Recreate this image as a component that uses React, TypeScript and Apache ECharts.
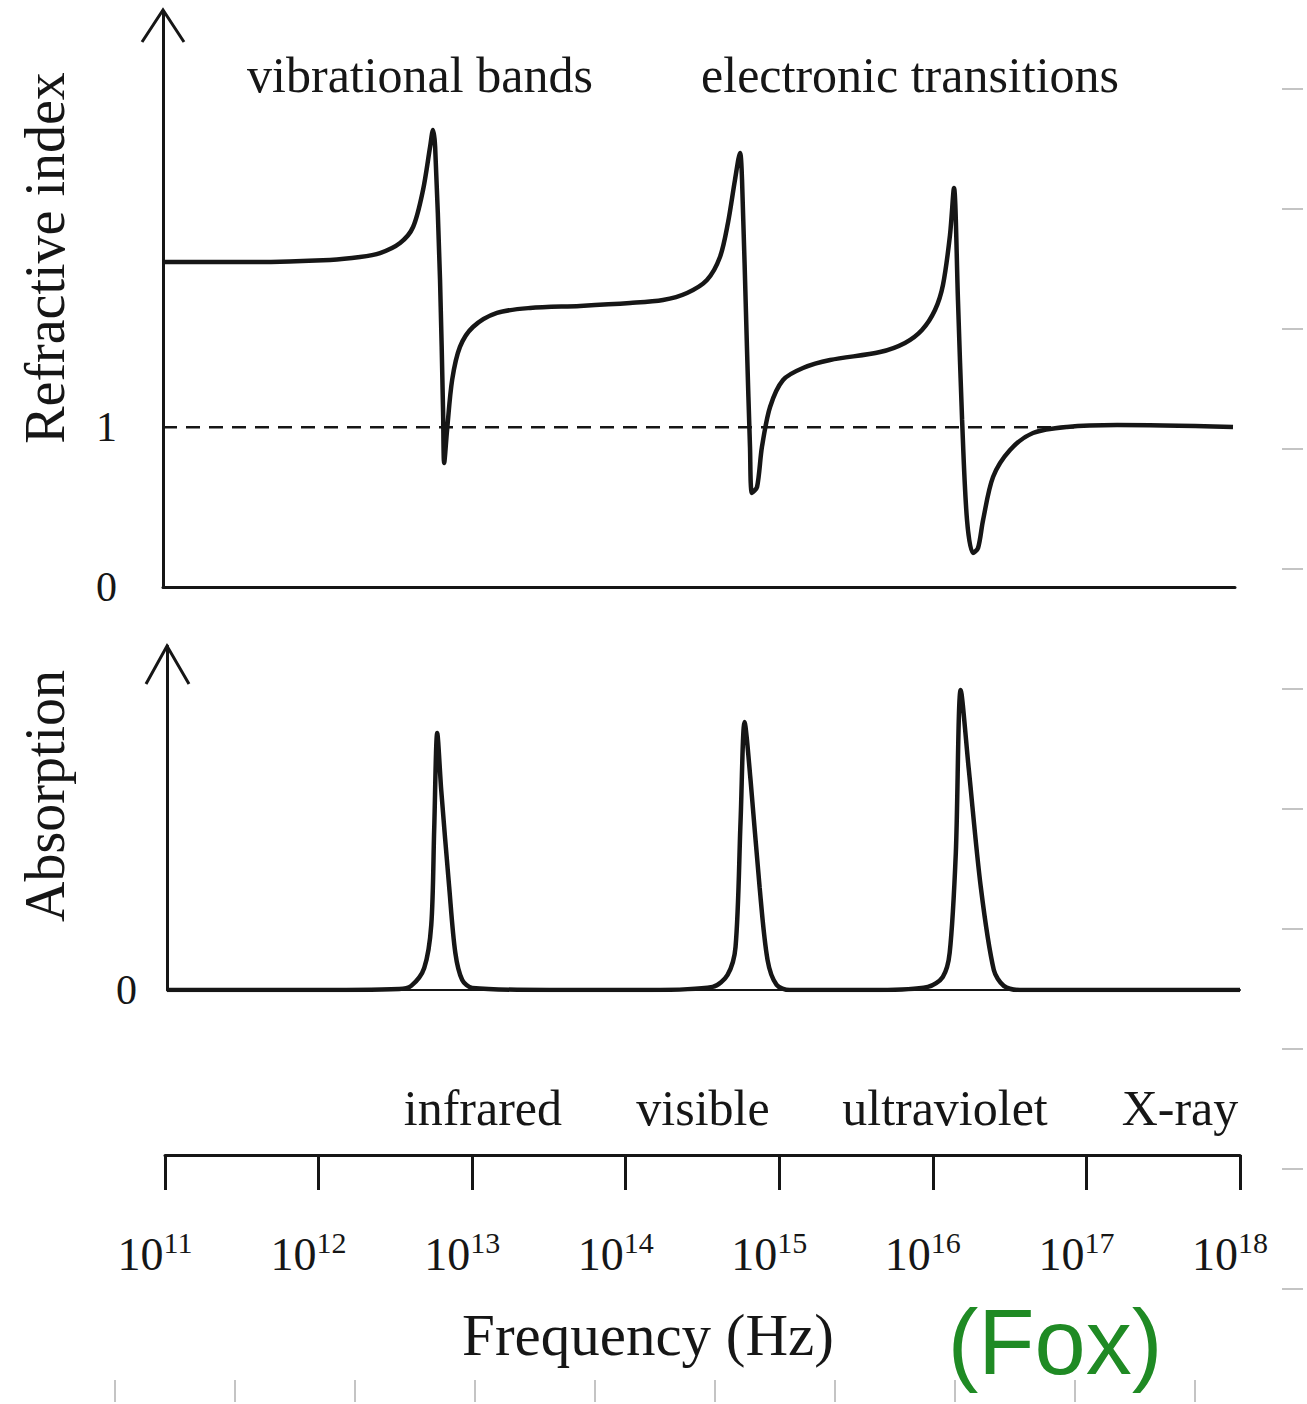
import React, { useEffect, useRef } from "react";
import * as echarts from "echarts";

// ---- data (x = log10 of frequency in Hz) ----
const freqExponents = [11, 12, 13, 14, 15, 16, 17, 18];

const refrX = [
  11.0, 11.568, 12.09, 12.286, 12.417, 12.548, 12.633, 12.698, 12.744, 12.763,
  12.777, 12.809, 12.829, 12.836, 12.855, 12.888, 12.939, 13.024, 13.181, 13.397,
  13.723, 14.05, 14.265, 14.422, 14.552, 14.637, 14.689, 14.735, 14.768, 14.781,
  14.813, 14.833, 14.846, 14.879, 14.911, 14.964, 15.049, 15.179, 15.356, 15.682,
  15.845, 15.956, 16.041, 16.093, 16.139, 16.165, 16.191, 16.218, 16.25, 16.289,
  16.322, 16.355, 16.42, 16.531, 16.681, 16.903, 17.23, 17.987,
];
const refrY = [
  2.035, 2.035, 2.048, 2.066, 2.091, 2.154, 2.254, 2.486, 2.755, 2.862,
  2.755, 1.922, 1.09, 0.776, 0.983, 1.296, 1.503, 1.628, 1.716, 1.747,
  1.76, 1.778, 1.797, 1.841, 1.922, 2.066, 2.279, 2.549, 2.718, 2.549,
  1.503, 0.877, 0.589, 0.626, 0.877, 1.127, 1.296, 1.371, 1.421, 1.471,
  1.528, 1.609, 1.734, 1.891, 2.204, 2.498, 1.797, 1.046, 0.42, 0.213,
  0.244, 0.42, 0.689, 0.858, 0.964, 1.002, 1.014, 1.002,
];

const absX = [
  11.0, 11.862, 12.515, 12.593, 12.678, 12.724, 12.743, 12.763, 12.789, 12.841,
  12.881, 12.926, 12.992, 13.494,
  14.147, 14.559, 14.657, 14.709, 14.742, 14.768, 14.807, 14.866, 14.918, 14.977, 15.062,
  15.649, 15.963, 16.061, 16.106, 16.146, 16.178, 16.231, 16.309, 16.394, 16.459, 16.564, 18.0,
];
const absY = [
  0, 0, 0.003, 0.012, 0.064, 0.189, 0.465, 0.747, 0.581, 0.299,
  0.108, 0.029, 0.006, 0,
  0, 0.009, 0.044, 0.125, 0.494, 0.779, 0.61, 0.299, 0.087, 0.015, 0,
  0, 0.009, 0.038, 0.108, 0.398, 0.872, 0.64, 0.299, 0.058, 0.012, 0, 0,
];

const unityX = [11, 17.0];
const unityY = [1, 1];

const refrTickLabels = ["0", "1"];

const bandNames = ["vibrational bands", "electronic transitions"];
const bandX = [12.678, 15.878];
const bandY = [3.206, 3.206];

const regionNames = ["infrared", "visible", "ultraviolet", "X-ray"];
const regionX = [13.07, 14.503, 16.079, 17.609];
const regionY = [0.85, 0.85, 0.85, 0.85];

const INK = "#161616";
const TEXT = "#161616";
const SERIF = "Liberation Serif, Times New Roman, serif";

export default function App() {
  const ref = useRef<HTMLDivElement>(null);

  useEffect(() => {
    document.body.style.margin = "0";
    const chart = echarts.init(ref.current!, null, { renderer: "svg" });

    const zip = (xs: number[], ys: number[]) => xs.map((x, i) => [x, ys[i]]);

    const scanMarks: any[] = [];
    for (let i = 0; i < 11; i++) {
      const y = 89 + i * 120;
      scanMarks.push({
        type: "line",
        shape: { x1: 1282, y1: y, x2: 1303, y2: y },
        style: { stroke: "#c4c4c4", lineWidth: 2 },
        silent: true,
      });
    }
    for (let i = 0; i < 10; i++) {
      const x = 115 + i * 120;
      scanMarks.push({
        type: "line",
        shape: { x1: x, y1: 1380, x2: x, y2: 1402 },
        style: { stroke: "#c4c4c4", lineWidth: 2 },
        silent: true,
      });
    }

    const labelStyle = {
      show: true, position: "inside", formatter: "{b}",
      fontFamily: SERIF, fontSize: 50, color: TEXT,
      textBorderWidth: 0, textBorderColor: "transparent", opacity: 1,
    };

    const option: any = {
      animation: false,
      backgroundColor: "#ffffff",
      grid: [
        { left: 163, top: 12, width: 1072, height: 575 },
        { left: 167, top: 646, width: 1073, height: 344 },
        { left: 165, top: 1100, width: 1075, height: 55 },
      ],
      xAxis: [
        {
          gridIndex: 0, type: "value", min: 11, max: 18,
          axisLine: { show: true, lineStyle: { color: INK, width: 3 } },
          axisTick: { show: false }, axisLabel: { show: false }, splitLine: { show: false },
        },
        {
          gridIndex: 1, type: "value", min: 11, max: 18,
          axisLine: { show: true, lineStyle: { color: INK, width: 2 } },
          axisTick: { show: false }, axisLabel: { show: false }, splitLine: { show: false },
        },
        {
          gridIndex: 2, type: "value", min: 11, max: 18, interval: 1,
          axisLine: { show: true, lineStyle: { color: INK, width: 3 } },
          axisTick: { show: true, length: 35, lineStyle: { color: INK, width: 3 } },
          splitLine: { show: false },
          axisLabel: {
            show: true,
            margin: 72,
            padding: [0, 20, 0, 0],
            formatter: (v: number) => {
              const e = freqExponents.find((n) => n === Math.round(v));
              return e === undefined ? "" : `{b|10}{s|${e}}`;
            },
            rich: {
              b: { fontFamily: SERIF, fontSize: 46, color: TEXT, lineHeight: 50, verticalAlign: "bottom" },
              s: { fontFamily: SERIF, fontSize: 30, color: TEXT, lineHeight: 30, verticalAlign: "top" },
            },
          },
        },
      ],
      yAxis: [
        {
          gridIndex: 0, type: "value", min: 0, max: 3.6, interval: 1,
          axisLine: { show: true, lineStyle: { color: INK, width: 3 } },
          axisTick: { show: false }, splitLine: { show: false },
          axisLabel: {
            show: true, margin: 46, fontFamily: SERIF, fontSize: 42, color: TEXT,
            showMaxLabel: false,
            formatter: (v: number) => (v < 2 ? refrTickLabels[Math.round(v)] : ""),
          },
        },
        {
          gridIndex: 1, type: "value", min: 0, max: 1, interval: 1,
          axisLine: { show: true, lineStyle: { color: INK, width: 3 } },
          axisTick: { show: false }, splitLine: { show: false },
          axisLabel: {
            show: true, margin: 30, fontFamily: SERIF, fontSize: 42, color: TEXT,
            formatter: (v: number) => (v === 0 ? "0" : ""),
          },
        },
        {
          gridIndex: 2, type: "value", min: 0, max: 1, show: false,
        },
      ],
      series: [
        {
          type: "line", xAxisIndex: 0, yAxisIndex: 0, silent: true,
          data: zip(unityX, unityY), symbol: "none",
          lineStyle: { color: INK, width: 2.5, type: [14, 9] },
        },
        {
          type: "line", xAxisIndex: 0, yAxisIndex: 0, silent: true,
          data: zip(refrX, refrY), symbol: "none", smooth: 0.3,
          lineStyle: { color: INK, width: 4.5 },
        },
        {
          type: "line", xAxisIndex: 1, yAxisIndex: 1, silent: true,
          data: zip(absX, absY), symbol: "none", smooth: 0.3,
          lineStyle: { color: INK, width: 4.5 },
        },
        {
          type: "scatter", xAxisIndex: 0, yAxisIndex: 0, silent: true,
          symbolSize: 1, itemStyle: { color: "#ffffff", opacity: 0 },
          data: bandNames.map((n, i) => ({ name: n, value: [bandX[i], bandY[i]] })),
          label: labelStyle,
        },
        {
          type: "scatter", xAxisIndex: 2, yAxisIndex: 2, silent: true,
          symbolSize: 1, itemStyle: { color: "#ffffff", opacity: 0 },
          data: regionNames.map((n, i) => ({ name: n, value: [regionX[i], regionY[i]] })),
          label: labelStyle,
        },
      ],
      graphic: [
        {
          type: "polyline", silent: true,
          shape: { points: [[142, 42], [163, 10], [184, 42]] },
          style: { stroke: INK, lineWidth: 3, fill: null },
        },
        {
          type: "polyline", silent: true,
          shape: { points: [[146, 684], [167, 646], [189, 684]] },
          style: { stroke: INK, lineWidth: 3, fill: null },
        },
        {
          type: "text", silent: true, x: 45, y: 258, rotation: Math.PI / 2,
          style: {
            text: "Refractive index", fontFamily: SERIF, fontSize: 56, fill: TEXT,
            align: "center", verticalAlign: "middle",
          },
        },
        {
          type: "text", silent: true, x: 45, y: 796, rotation: Math.PI / 2,
          style: {
            text: "Absorption", fontFamily: SERIF, fontSize: 56, fill: TEXT,
            align: "center", verticalAlign: "middle",
          },
        },
        {
          type: "text", silent: true, x: 648, y: 1335,
          style: {
            text: "Frequency (Hz)", fontFamily: SERIF, fontSize: 59, fill: TEXT,
            align: "center", verticalAlign: "middle",
          },
        },
        {
          type: "text", silent: true, x: 1055, y: 1342,
          style: {
            text: "(Fox)", fontFamily: "Liberation Sans, Noto Sans, sans-serif", fontSize: 92,
            fill: "#1f8a24", align: "center", verticalAlign: "middle",
          },
        },
        ...scanMarks,
      ],
    };

    chart.setOption(option);
    return () => chart.dispose();
  }, []);

  return <div ref={ref} style={{ width: 1307, height: 1404, background: "#fff" }} />;
}
